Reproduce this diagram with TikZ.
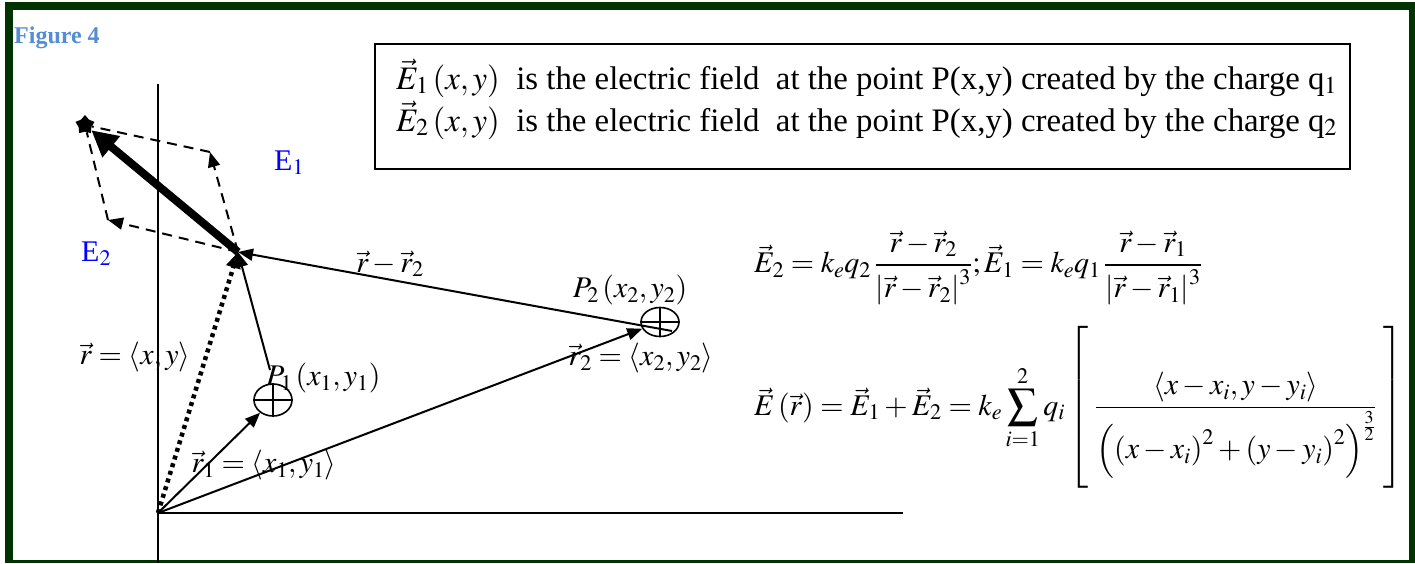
\documentclass[tikz,border=0pt]{standalone}
\usepackage{amsmath}
\usepackage{mathptmx}
\usepackage[no-math]{fontspec}
\setmainfont{Liberation Serif}
\usepackage{tikz}
\usetikzlibrary{arrows.meta,shapes.geometric}
\definecolor{frame}{RGB}{0,51,0}
\definecolor{figblue}{RGB}{84,141,212}
\definecolor{fieldblue}{RGB}{0,0,255}

\begin{document}
\begin{tikzpicture}[x=1pt, y=-1pt,
  lbl/.style={font=\fontsize{30}{36}\selectfont, inner sep=0pt},
  efield/.style={lbl, text=fieldblue},
  vecarrow/.style={line width=2pt, -{Triangle[length=15pt, width=12pt]}},
  comp/.style={line width=2pt, dash pattern=on 10pt off 7pt},
  charge/.style={draw, line width=1.6pt, ellipse, minimum width=38pt, minimum height=32pt, inner sep=0pt}]

  \useasboundingbox (0,0) rectangle (1415,563);

  \fill[frame] (5,2) rectangle (1415,563);
  \fill[white] (13,10) rectangle (1409,560);

  \node[anchor=base west, inner sep=0pt, text=figblue, font=\fontsize{24}{28}\selectfont\bfseries]
    (figlbl) at (14,43) {Figure 4};

  % axes
  \coordinate (O) at (158,513);
  \coordinate (ytop) at (158,84);
  \coordinate (ybot) at (158,563);
  \coordinate (xend) at (903,513);
  \draw[line width=1.5pt] (ytop) -- (ybot);
  \draw[line width=2pt] (O) -- (xend);

  % field point and the two charges
  \coordinate (P) at (238,252);
  \coordinate (A1) at (210,152);
  \coordinate (A2) at (108,220);
  \coordinate (R1) at (270,370);
  \coordinate (R2) at (672,331);

  \node[charge] (q1) at (273,400) {};
  \draw[line width=1.6pt] (q1.north) -- (q1.south) (q1.west) -- (q1.east);
  \node[charge, minimum height=29pt] (q2) at (660,322) {};
  \draw[line width=1.6pt] (q2.north) -- (q2.south) (q2.west) -- (q2.east);

  \node[star, star points=5, fill, inner sep=0pt, minimum size=20pt] (s) at (85,125) {};

  \draw[comp] (A1) -- (s);
  \draw[comp] (A2) -- (s);
  \draw[comp, -{Triangle[length=15pt, width=12pt]}] (P) -- (A1);
  \draw[comp, -{Triangle[length=15pt, width=12pt]}] (P) -- (A2);
  \draw[line width=8pt, -{Triangle[length=26pt, width=26pt]}] (P) -- (s);

  \draw[line width=4.5pt, dash pattern=on 4pt off 4pt, -{Triangle[length=16pt, width=14pt]}] (O) -- (P);
  \draw[vecarrow] (O) -- (q1);
  \draw[vecarrow] (O) -- (q2);
  \draw[vecarrow] (R1) -- (P);
  \draw[vecarrow] (R2) -- (P);

  % labels
  \node[efield, anchor=base west] (e1lbl) at (274,170) {E$_1$};
  \node[efield, anchor=base west] (e2lbl) at (81,261) {E$_2$};
  \node[lbl] (rr2) at (390,264) {$\vec r-\vec r_2$};
  \node[lbl] (rvec) at (135,357) {$\vec r=\left\langle x, y\right\rangle$};
  \node[lbl] (r1vec) at (264,465) {$\vec r_1=\left\langle x_1, y_1\right\rangle$};
  \node[lbl, anchor=west] (p1lbl) at (266,378) {$P_1\left(x_1, y_1\right)$};
  \node[lbl] (p2lbl) at (630,290) {$P_2\left(x_2, y_2\right)$};
  \node[lbl] (r2vec) at (641,358) {$\vec r_2=\left\langle x_2, y_2\right\rangle$};

  % legend box
  \node[draw, line width=1.5pt, anchor=north west, minimum width=975pt, minimum height=125pt, inner sep=0pt]
    (legend) at (374,43) {};
  \node[lbl, anchor=base west, font=\fontsize{32.8}{38}\selectfont] (row1) at (396,89)
    {$\vec E_1\left(x, y\right)$\ \ is the electric field\ \ at the point P(x,y) created by the charge q$_1$};
  \node[lbl, anchor=base west, font=\fontsize{32.8}{38}\selectfont] (row2) at (396,131)
    {$\vec E_2\left(x, y\right)$\ \ is the electric field\ \ at the point P(x,y) created by the charge q$_2$};

  % formulas
  \node[lbl, anchor=west] (fieldeq) at (754,268)
    {$\displaystyle \vec E_2=k_e q_2\,\frac{\vec r-\vec r_2}{\left|\vec r-\vec r_2\right|^3};\vec E_1=k_e q_1\,\frac{\vec r-\vec r_1}{\left|\vec r-\vec r_1\right|^3}$};
  \node[lbl, anchor=west] (sumeq) at (754,408)
    {$\displaystyle \vec E\left(\vec r\right)=\vec E_1+\vec E_2=k_e\sum_{i=1}^{2}q_i\left[\;\frac{\left\langle x-x_i, y-y_i\right\rangle}{\left(\left(x-x_i\right)^2+\left(y-y_i\right)^2\right)^{\frac{3}{2}}}\rule[-74pt]{0pt}{160pt}\;\right]$};

\end{tikzpicture}
\end{document}
